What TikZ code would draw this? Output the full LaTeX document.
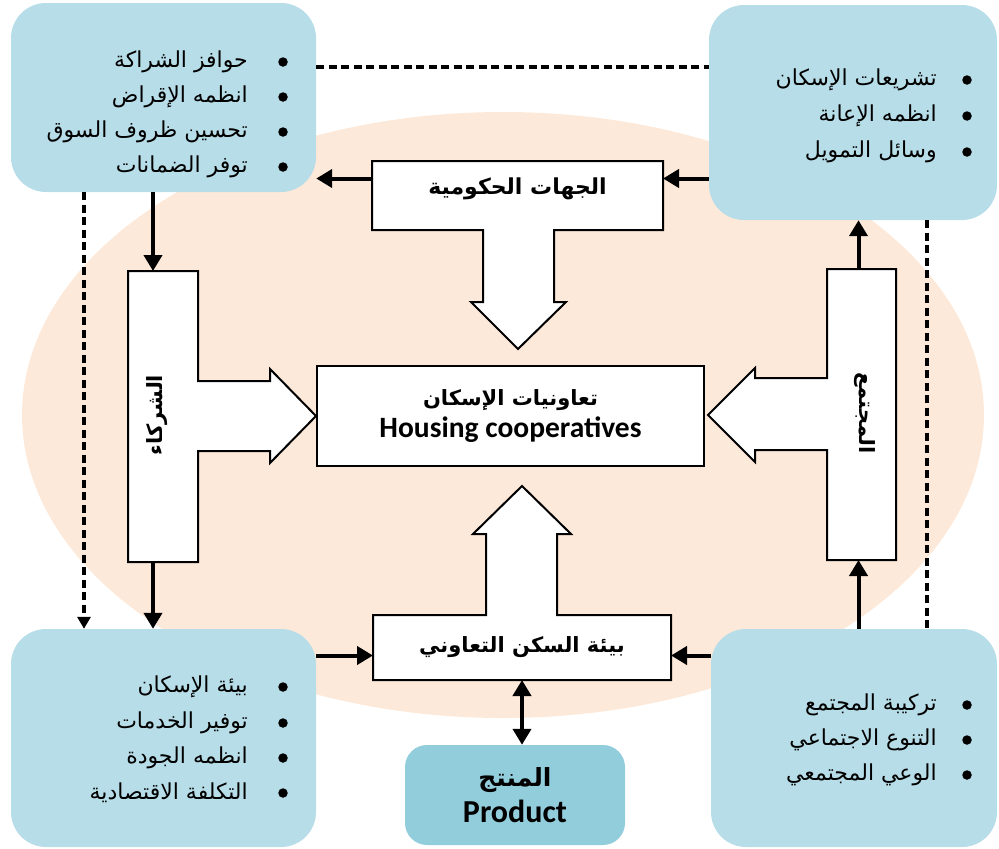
\documentclass[tikz,border=0pt]{standalone}
\usepackage{fontspec}
\usetikzlibrary{arrows.meta,calc}
\TeXXeTstate=1
\newfontfamily\arabicfont[Script=Arabic]{DejaVu Sans}
\newfontfamily\latinfont{Carlito}
\definecolor{peach}{RGB}{253,233,217}
\definecolor{lightblue}{RGB}{183,221,232}
\definecolor{midblue}{RGB}{146,205,220}

\tikzset{
  infobox/.style={fill=lightblue, rounded corners=35pt, inner sep=0pt},
  prodbox/.style={fill=midblue, rounded corners=22pt, inner sep=0pt, align=center},
  tshape/.style={draw=black, fill=white, line width=2pt, line join=miter},
  barnode/.style={inner sep=0pt, outer sep=0pt},
  centerbox/.style={draw=black, fill=white, line width=2pt, inner sep=0pt, align=center},
  arr/.style={line width=4pt, -{Triangle[length=16pt,width=18pt]}},
  arrboth/.style={line width=4pt, {Triangle[length=16pt,width=18pt]}-{Triangle[length=16pt,width=18pt]}},
  dsh/.style={line width=3.4pt, dash pattern=on 8pt off 4.5pt},
  dsharr/.style={dsh, -{Triangle[length=12pt,width=13pt]}},
  item/.style={anchor=east, inner sep=0pt, font=\arabicfont\fontsize{22}{26}\selectfont},
  bulletdot/.style={circle, fill=black, inner sep=0pt, minimum size=9.5pt},
  barlabel/.style={font=\arabicfont\bfseries\fontsize{22}{28}\selectfont},
  vlabel/.style={inner sep=0pt, font=\arabicfont\bfseries\fontsize{21}{26}\selectfont},
}

\begin{document}
\begin{tikzpicture}[x=1pt, y=-1pt]
\useasboundingbox (0,0) rectangle (999,849);

% background ellipse
\fill[peach] (503,415) ellipse [x radius=481pt, y radius=303pt];

% corner boxes
\node[infobox, minimum width=305pt, minimum height=189pt] (tl) at (163.5,97.5) {};
\node[infobox, minimum width=288pt, minimum height=215pt] (tr) at (853,112.5) {};
\node[infobox, minimum width=305pt, minimum height=218pt] (bl) at (163.5,738) {};
\node[infobox, minimum width=286pt, minimum height=218pt] (br) at (854,738) {};

% bullet lists
\node[item] (tl1) at (248,62)  {\beginR حوافز الشراكة\endR};
\node[item] (tl2) at (248,97)  {\beginR انظمه الإقراض\endR};
\node[item] (tl3) at (248,132) {\beginR تحسين ظروف السوق\endR};
\node[item] (tl4) at (248,167) {\beginR توفر الضمانات\endR};
\foreach \yy [count=\i] in {62,97,132,167} \node[bulletdot] (tlb\i) at (283,\yy) {};

\node[item] (tr1) at (937,80)  {\beginR تشريعات الإسكان\endR};
\node[item] (tr2) at (937,116) {\beginR انظمه الإعانة\endR};
\node[item] (tr3) at (937,152) {\beginR وسائل التمويل\endR};
\foreach \yy [count=\i] in {80,116,152} \node[bulletdot] (trb\i) at (967,\yy) {};

\node[item] (bl1) at (248,687) {\beginR بيئة الإسكان\endR};
\node[item] (bl2) at (248,723) {\beginR توفير الخدمات\endR};
\node[item] (bl3) at (248,758) {\beginR انظمه الجودة\endR};
\node[item] (bl4) at (248,793) {\beginR التكلفة الاقتصادية\endR};
\foreach \yy [count=\i] in {687,723,758,793} \node[bulletdot] (blb\i) at (283,\yy) {};

\node[item] (br1) at (937,705) {\beginR تركيبة المجتمع\endR};
\node[item] (br2) at (937,740) {\beginR التنوع الاجتماعي\endR};
\node[item] (br3) at (937,775) {\beginR الوعي المجتمعي\endR};
\foreach \yy [count=\i] in {705,740,775} \node[bulletdot] (brb\i) at (967,\yy) {};

% product box
\node[prodbox, minimum width=220pt, minimum height=100pt] (prod) at (515,795)
  {{\arabicfont\bfseries\fontsize{25}{30}\selectfont\beginR المنتج\endR}\\[6pt]
   {\latinfont\bfseries\fontsize{32}{34}\selectfont Product}};

% dashed links
\coordinate (d1) at ([yshift=30.5pt]tl.east);
\draw[dsh] (d1) -- (d1 -| tr.west);
\coordinate (d2) at ([xshift=-79.5pt]tl.south);
\draw[dsharr] (d2) -- (d2 |- bl.north);
\coordinate (d3) at ([xshift=74pt]tr.south);
\draw[dsh] (d3) -- (d3 |- br.north);

% T-shaped block arrows
\draw[tshape] (372,161) -- (663,161) -- (663,230) -- (554,230) -- (554,302) -- (566,302)
  -- (518,349) -- (471,302) -- (483,302) -- (483,230) -- (372,230) -- cycle;
\draw[tshape] (128,271) -- (198,271) -- (198,381) -- (270,381) -- (270,369) -- (316,416)
  -- (270,463) -- (270,451) -- (198,451) -- (198,562) -- (128,562) -- cycle;
\draw[tshape] (827,269) -- (896,269) -- (896,560) -- (827,560) -- (827,450) -- (755,450)
  -- (755,462) -- (708,415) -- (755,368) -- (755,378) -- (827,378) -- cycle;
\draw[tshape] (373,615) -- (486,615) -- (486,534) -- (473,534) -- (522,486) -- (571,534)
  -- (557,534) -- (557,615) -- (671,615) -- (671,680) -- (373,680) -- cycle;

% bar regions of the block arrows
\node[barnode, minimum width=291pt, minimum height=69pt] (gov) at (517.5,195.5) {};
\node[barnode, minimum width=70pt, minimum height=291pt] (par) at (163,416.5) {};
\node[barnode, minimum width=69pt, minimum height=291pt] (soc) at (861.5,414.5) {};
\node[barnode, minimum width=298pt, minimum height=65pt] (env) at (522,647.5) {};

\node[barlabel] (govlbl) at (517.5,189) {\beginR الجهات الحكومية\endR};
\node[barlabel, font=\arabicfont\bfseries\fontsize{21}{28}\selectfont] (envlbl) at (522,647) {\beginR بيئة السكن التعاوني\endR};
\node[vlabel, rotate=90] (parlbl) at (157,415) {\beginR الشركاء\endR};
\node[vlabel, rotate=-90] (soclbl) at (865,413) {\beginR المجتمع\endR};

% central box
\node[centerbox, minimum width=387pt, minimum height=100pt] (coop) at (510.5,416)
  {{\arabicfont\bfseries\fontsize{21}{28}\selectfont\beginR تعاونيات الإسكان\endR}\\[5pt]
   {\latinfont\bfseries\fontsize{29.5}{31}\selectfont Housing cooperatives}};

% solid arrows
\coordinate (g1) at ([yshift=17pt]gov.west);
\draw[arr] (g1) -- (g1 -| tl.east);
\coordinate (g2) at ([yshift=17pt]gov.east);
\draw[arr] (g2 -| tr.west) -- (g2);
\coordinate (p1) at ([xshift=-10pt]par.north);
\draw[arr] (p1 |- tl.south) -- (p1);
\coordinate (p2) at ([xshift=-10pt]par.south);
\draw[arr] (p2) -- (p2 |- bl.north);
\coordinate (e1) at ([yshift=-8pt]env.west);
\draw[arr] (e1 -| bl.east) -- (e1);
\coordinate (e2) at ([yshift=-8pt]env.east);
\draw[arr] (e2 -| br.west) -- (e2);
\coordinate (s1) at ([xshift=-3pt]soc.south);
\draw[arr] (s1 |- br.north) -- (s1);
\coordinate (s2) at ([xshift=-3pt]soc.north);
\draw[arr] (s2) -- (s2 |- tr.south);
\draw[arrboth] (env.south) -- (env.south |- prod.north);
\end{tikzpicture}
\end{document}
